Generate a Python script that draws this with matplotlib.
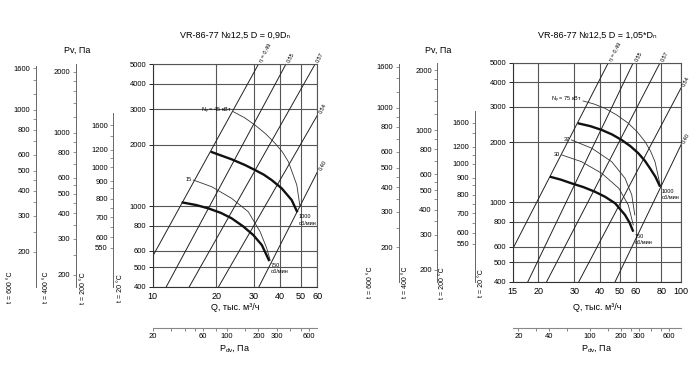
import matplotlib.pyplot as plt
from matplotlib.ticker import FixedLocator, FixedFormatter, NullFormatter, NullLocator

plt.rcParams['font.family'] = ['Liberation Sans', 'DejaVu Sans']
plt.rcParams['mathtext.fontset'] = 'custom'
plt.rcParams['mathtext.rm'] = 'Liberation Sans'

W, H = 700, 382

# --- общие шкалы ---
P_TICKS = [400, 500, 600, 800, 1000, 2000, 3000, 4000, 5000]
ETA_LABELS = ['η = 0,49', '0,55', '0,57', '0,54', '0,40']

# шкалы Pv для разных температур (t=600, t=400 -> пересчёт по плотности)
T600_LABELS = [1600, 1000, 800, 600, 500, 400, 300, 200]
T600_MINOR = [1400, 1200, 900, 700, 450, 350, 250]
T400_LABELS = [2000, 1000, 800, 600, 500, 400, 300, 200]
T400_MINOR = [1800, 1600, 1400, 1200, 900, 700, 550, 450, 350, 250]
T200_LABELS = [1600, 1200, 1000, 900, 800, 700, 600, 550]
# положение отметок t=200 в единицах шкалы 20 °C
T200_AT = [2498, 1898, 1556, 1324, 1089, 880, 702, 621]
T200_MINOR_AT = [2214, 1719, 1222, 981, 790]

# --- D = 0,9Dn ---
Q_TICKS_A = [10, 20, 30, 40, 50, 60]
PDV_TICKS_A = [20, 60, 100, 200, 300, 600]
PDV_MINOR_A = [30, 40, 50, 80, 150, 400, 500]
RPM1000_A_Q = [18.8, 23.6, 27.3, 30.45, 33.5, 36.5, 40.7, 45.4, 48.3]
RPM1000_A_P = [1853, 1700, 1593, 1505, 1428, 1343, 1223, 1070, 931]
RPM750_A_Q = [13.7, 16.0, 18.3, 21.0, 23.6, 26.8, 29.9, 32.8, 35.6]
RPM750_A_P = [1043, 1012, 974, 925, 870, 793, 719, 642, 535]
N45_A_Q = [24.05, 27.2, 30.45, 34.2, 37.9, 41.0, 43.8, 48.0, 49.7]
N45_A_P = [2918, 2725, 2508, 2270, 2038, 1850, 1654, 1270, 993]
N15_A_Q = [15.56, 19.0, 23.6, 28.3, 32.2, 34.6, 35.9]
N15_A_P = [1343, 1245, 1091, 937, 747, 619, 542]
ETA_A_Q1 = [10, 11.6, 14.9, 20.5, 31.8]
ETA_A_P1 = [565, 400, 400, 400, 400]
ETA_A_Q2 = [31.6, 42.6, 58.5, 60, 60]
ETA_A_P2 = [5000, 5000, 5000, 2800, 1470]

# --- D = 1,05*Dn ---
Q_TICKS_B = [15, 20, 30, 40, 50, 60, 80, 100]
PDV_TICKS_B = [20, 40, 100, 200, 300, 600]
PDV_MINOR_B = [30, 60, 150, 250, 400, 500]
RPM1000_B_Q = [31.2, 36.0, 40.9, 46.0, 51.2, 56.5, 61.8, 66.5, 70.5, 75.0, 79.0]
RPM1000_B_P = [2488, 2405, 2302, 2185, 2051, 1910, 1760, 1615, 1479, 1340, 1197]
RPM750_B_Q = [22.8, 25.8, 29.1, 33.2, 37.9, 42.5, 47.6, 53.2, 56.0, 58.4]
RPM750_B_P = [1343, 1298, 1244, 1192, 1129, 1065, 988, 864, 790, 712]
N75_B_Q = [33.2, 37.5, 42.4, 48.5, 55.2, 61.0, 66.7, 71.0, 74.6, 79.0]
N75_B_P = [3216, 3105, 2956, 2735, 2488, 2255, 2011, 1800, 1596, 1221]
N37_B_Q = [29.1, 36.6, 45.8, 53.2, 57.4, 59.4]
N37_B_P = [2051, 1864, 1596, 1319, 1088, 864]
N30_B_Q = [26.1, 32.6, 40.9, 49.6, 55.2, 58.4]
N30_B_P = [1725, 1596, 1397, 1175, 969, 769]
ETA_B_Q1 = [15, 17.8, 22.0, 31.6, 47.6]
ETA_B_P1 = [583, 400, 400, 400, 400]
ETA_B_Q2 = [44.1, 58.4, 79.0, 100, 100]
ETA_B_P2 = [5000, 5000, 5000, 3735, 1937]

LINE = '#222222'
GRID = '#555555'
FS_TICK = 5.5


def px_axes(fig, x0, y0, x1, y1):
    return fig.add_axes([x0 / W, 1 - y1 / H, (x1 - x0) / W, (y1 - y0) / H])


def aux_scale(fig, x, y0, y1, at, labels, minor_at, top=5000):
    ax = px_axes(fig, x, y0, x + 0.01, y1)
    ax.patch.set_visible(False)
    ax.set_yscale('log')
    ax.set_ylim(400, 5000)
    for s in ('top', 'right', 'bottom'):
        ax.spines[s].set_visible(False)
    ax.spines['left'].set_color('#666666')
    ax.spines['left'].set_linewidth(0.7)
    ax.spines['left'].set_bounds(400, top)
    ax.set_xticks([])
    ax.yaxis.set_major_locator(FixedLocator(at))
    ax.yaxis.set_major_formatter(FixedFormatter([str(v) for v in labels]))
    ax.yaxis.set_minor_locator(FixedLocator(minor_at))
    ax.yaxis.set_minor_formatter(NullFormatter())
    ax.tick_params(axis='y', which='both', length=2.5, width=0.5,
                   color='#666666', labelsize=FS_TICK, pad=1.5)


def panel(fig, box, q_ticks, title, aux_x, t_label_x, pv_xy,
          curves_thick, curves_thin, eta, labels, rpm_labels,
          pdv_k, pdv_ticks, pdv_minor):
    x0, y0, x1, y1 = box
    ax = px_axes(fig, x0, y0, x1, y1)
    ax.set_xscale('log')
    ax.set_yscale('log')
    ax.set_xlim(q_ticks[0], q_ticks[-1])
    ax.set_ylim(400, 5000)
    ax.xaxis.set_major_locator(FixedLocator(q_ticks))
    ax.xaxis.set_major_formatter(FixedFormatter([str(v) for v in q_ticks]))
    ax.xaxis.set_minor_locator(NullLocator())
    ax.yaxis.set_major_locator(FixedLocator(P_TICKS))
    ax.yaxis.set_major_formatter(FixedFormatter([str(v) for v in P_TICKS]))
    ax.yaxis.set_minor_locator(NullLocator())
    ax.grid(True, which='major', color=GRID, lw=0.8)
    ax.tick_params(axis='x', length=0, labelsize=6.5, pad=4)
    ax.tick_params(axis='y', length=3, width=0.6, labelsize=FS_TICK, pad=1.5)
    for s in ax.spines.values():
        s.set_color(GRID)
        s.set_linewidth(0.8)
    ax.spines['left'].set_color('#333333')
    ax.spines['bottom'].set_color('#333333')

    # линии КПД
    q1s, p1s, q2s, p2s = eta
    for lab, qa, pa, qb, pb in zip(ETA_LABELS, q1s, p1s, q2s, p2s):
        ax.plot([qa, qb], [pa, pb], color=LINE, lw=0.7)
        ax.annotate(lab, (qb, pb), xytext=(1.5, 1.5), textcoords='offset points',
                    rotation=62, rotation_mode='anchor', ha='left', va='center',
                    fontsize=4, annotation_clip=False)

    for q, p in curves_thin:
        ax.plot(q, p, color='#333333', lw=0.6)
    for q, p in curves_thick:
        ax.plot(q, p, color='#111111', lw=1.7, solid_capstyle='butt',
                solid_joinstyle='round')

    for text, q, p in labels:
        ax.annotate(text, (q, p), xytext=(-1, 0.5), textcoords='offset points',
                    ha='right', va='center', fontsize=4)
    for text, q, p in rpm_labels:
        ax.annotate(text, (q, p), xytext=(1, -1.5), textcoords='offset points',
                    ha='left', va='top', fontsize=4, linespacing=1.3,
                    annotation_clip=False)

    cx = (x0 + x1) / 2
    fig.text(cx / W, 1 - 35 / H, title, ha='center', va='center', fontsize=6.5)
    fig.text(cx / W, 1 - 307 / H, 'Q, тыс. м³/ч', ha='center', va='center', fontsize=6.5)

    # шкала динамического давления
    pax = fig.add_axes([x0 / W, 1 - 328 / H, (x1 - x0) / W, 0.0001])
    pax.patch.set_visible(False)
    pax.set_xscale('log')
    pax.set_xlim(pdv_k * q_ticks[0] ** 2, pdv_k * q_ticks[-1] ** 2)
    for s in ('top', 'right', 'left'):
        pax.spines[s].set_visible(False)
    pax.spines['bottom'].set_color('#888888')
    pax.spines['bottom'].set_linewidth(0.8)
    pax.set_yticks([])
    pax.xaxis.set_major_locator(FixedLocator(pdv_ticks))
    pax.xaxis.set_major_formatter(FixedFormatter([str(v) for v in pdv_ticks]))
    pax.xaxis.set_minor_locator(FixedLocator(pdv_minor))
    pax.xaxis.set_minor_formatter(NullFormatter())
    pax.tick_params(axis='x', which='both', length=2.5, width=0.5,
                    color='#555555', labelsize=FS_TICK, pad=1)
    fig.text(cx / W, 1 - 348 / H, 'P$_\\mathregular{dv}$, Па', ha='center',
             va='center', fontsize=6.5)

    # шкалы Pv при разных температурах
    xa, xb, xc = aux_x
    aux_scale(fig, xa, y0, y1, [v * 873 / 293 for v in T600_LABELS], T600_LABELS,
              [v * 873 / 293 for v in T600_MINOR], top=4900)
    aux_scale(fig, xb, y0, y1, [v * 673 / 293 for v in T400_LABELS], T400_LABELS,
              [v * 673 / 293 for v in T400_MINOR])
    aux_scale(fig, xc, y0, y1, T200_AT, T200_LABELS, T200_MINOR_AT, top=2875)
    fig.text(pv_xy[0] / W, 1 - pv_xy[1] / H, 'Pv, Па', ha='center', va='center',
             fontsize=6.5)
    for tx, t in zip(t_label_x, ['t = 600 °C', 't = 400 °C', 't = 200 °C', 't = 20 °C']):
        fig.text(tx / W, 1 - (y1 + 1) / H, t, rotation=90, ha='center',
                 va='center', fontsize=5)


fig = plt.figure(figsize=(7, 3.82), dpi=100)

panel(fig, (152.7, 64.3, 317.3, 286.7), Q_TICKS_A,
      'VR-86-77 №12,5 D = 0,9Dₙ',
      (36, 76, 113.3), (10, 46.7, 83.3, 120), (77, 50),
      [(RPM1000_A_Q, RPM1000_A_P), (RPM750_A_Q, RPM750_A_P)],
      [(N45_A_Q, N45_A_P), (N15_A_Q, N15_A_P)],
      (ETA_A_Q1, ETA_A_P1, ETA_A_Q2, ETA_A_P2),
      [('N$_\\mathregular{у}$ = 45 кВт', N45_A_Q[0], N45_A_P[0]),
       ('15', N15_A_Q[0], N15_A_P[0])],
      [('1000\nоб/мин', RPM1000_A_Q[-1], RPM1000_A_P[-1]),
       ('750\nоб/мин', RPM750_A_Q[-1], RPM750_A_P[-1])],
      0.2, PDV_TICKS_A, PDV_MINOR_A)

panel(fig, (512.7, 62.7, 681, 281.7), Q_TICKS_B,
      'VR-86-77 №12,5 D = 1,05*Dₙ',
      (399, 437.3, 475), (370, 405, 442.7, 481.7), (438, 50),
      [(RPM1000_B_Q, RPM1000_B_P), (RPM750_B_Q, RPM750_B_P)],
      [(N75_B_Q, N75_B_P), (N37_B_Q, N37_B_P), (N30_B_Q, N30_B_P)],
      (ETA_B_Q1, ETA_B_P1, ETA_B_Q2, ETA_B_P2),
      [('N$_\\mathregular{у}$ = 75 кВт', N75_B_Q[0], N75_B_P[0]),
       ('37', N37_B_Q[0], N37_B_P[0]),
       ('30', N30_B_Q[0], N30_B_P[0])],
      [('1000\nоб/мин', RPM1000_B_Q[-1], RPM1000_B_P[-1]),
       ('750\nоб/мин', RPM750_B_Q[-1], RPM750_B_P[-1])],
      0.078, PDV_TICKS_B, PDV_MINOR_B)

fig.savefig('out.png', dpi=100)
